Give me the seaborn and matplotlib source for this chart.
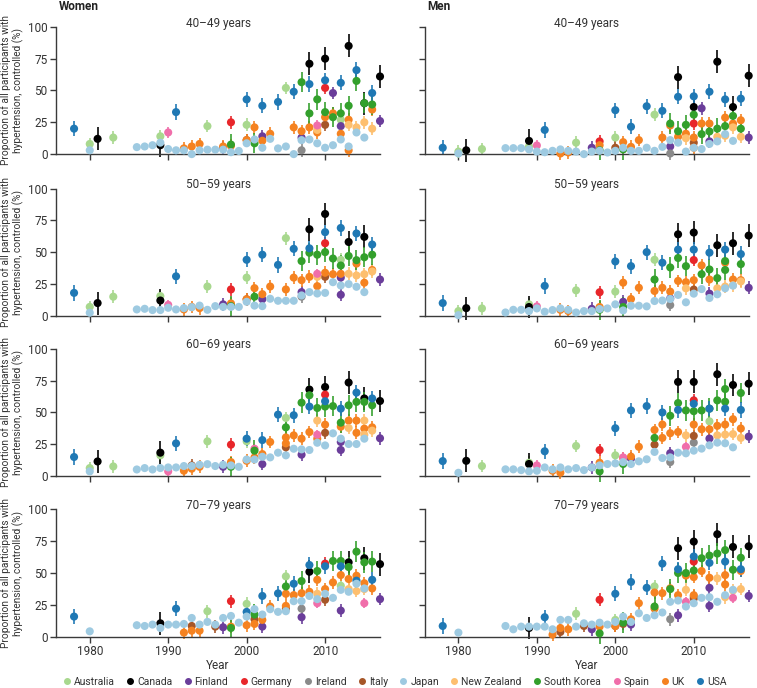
import numpy as np
import pandas as pd
import matplotlib
matplotlib.use('Agg')
import matplotlib.pyplot as plt
from matplotlib.lines import Line2D
import seaborn as sns

# Countries, colours and typical half-width of the 95% interval (read by eye)
countries = ['Australia', 'Canada', 'Finland', 'Germany', 'Ireland', 'Italy',
             'Japan', 'New Zealand', 'South Korea', 'Spain', 'UK', 'USA']
colors = ['#a8d88e', '#000000', '#6a3d9a', '#e8262a', '#8a8a8a', '#a65628',
          '#9ecae1', '#fdbf6f', '#33a02c', '#f06eaa', '#f58220', '#1f78b4']
ci_half = [5, 9, 5, 5, 5, 5, 2.5, 5, 8, 4, 5, 6]

JAPAN_YEARS = [1980, 1986, 1987, 1988, 1989, 1990, 1991, 1992, 1993, 1994, 1995,
               1996, 1997, 1998, 1999, 2000, 2001, 2002, 2003, 2004, 2005, 2006,
               2007, 2008, 2009, 2010, 2011, 2012, 2013, 2014, 2015]
USA_YEARS = [1978, 1991, 2000, 2002, 2004, 2006, 2008, 2010, 2012, 2014, 2016]

# ---- Women ----
women_40 = {
    'Australia': ([1980, 1983, 1989, 1995, 2000, 2005, 2012], [8, 13, 14, 22, 23, 52, 27]),
    'Canada': ([1981, 1989, 2008, 2010, 2013, 2015, 2017], [12, 7, 71, 75, 85, 40, 61]),
    'Finland': ([1997, 2002, 2007, 2011, 2012, 2017], [5, 14, 13, 48, 22, 26]),
    'Germany': ([1998, 2010], [25, 52]),
    'Ireland': ([2007], [3]),
    'Italy': ([2000, 2010], [11, 23]),
    'Japan': (JAPAN_YEARS, [3, 5.5, 6, 7, 9, 4, 3, 3, 0, 3, 3.5, 3.5, 3.5, 1.5, 2.5, 8.5,
                            11.5, 5, 12, 4.5, 6, 0, 11, 11.5, 8.5, 5, 7, 11.5, 6, 17, 13]),
    'New Zealand': ([2009, 2013, 2014, 2015, 2016], [19, 23, 21, 25, 20]),
    'South Korea': ([1998, 2001, 2007, 2008, 2009, 2010, 2011, 2012, 2013, 2014, 2015, 2016],
                    [7.5, 8.5, 56.5, 32, 43, 33, 29, 32, 38, 57.5, 40, 39]),
    'Spain': ([1990, 2009], [17, 22.5]),
    'UK': ([1992, 1993, 1994, 1997, 1998, 2000, 2001, 2002, 2003, 2006, 2007, 2008, 2009,
            2010, 2011, 2012, 2013, 2013, 2016],
           [4.5, 6, 8, 6, 6.5, 11, 21, 10.5, 16, 21, 18, 21, 17, 29, 32, 16, 27, 3, 35]),
    'USA': (USA_YEARS, [20, 33, 43, 38, 41, 49, 55, 58, 56, 66, 48]),
}
women_50 = {
    'Australia': ([1980, 1983, 1989, 1995, 2000, 2005, 2012], [7, 15, 15.5, 23, 30, 61, 44]),
    'Canada': ([1981, 1989, 2008, 2010, 2013, 2015], [10, 12, 68, 80, 58, 62]),
    'Finland': ([1997, 2002, 2007, 2012, 2012, 2017], [9, 13, 18.6, 30, 16.5, 28.5]),
    'Germany': ([1998, 2010], [20.7, 57]),
    'Ireland': ([2007], [15]),
    'Italy': ([2000, 2010], [13, 30.6]),
    'Japan': (JAPAN_YEARS, [2.4, 5, 5.5, 4.5, 4.5, 6.3, 5, 6, 6.8, 8, 4.7, 7.6, 7, 7, 7, 11,
                            8, 7.6, 13.4, 11.8, 11.8, 11.8, 16, 18.6, 17.5, 18, 26.4, 23.8,
                            24.9, 22.8, 18.6]),
    'New Zealand': ([2009, 2013, 2014, 2015, 2016], [30.6, 33, 31.7, 32.7, 34.8]),
    'South Korea': ([1998, 2001, 2007, 2008, 2009, 2010, 2011, 2012, 2013, 2014, 2015, 2016],
                    [7.6, 15, 43, 49.5, 48, 50, 45, 39.5, 47, 43.7, 46, 48]),
    'Spain': ([1990, 2009], [8.6, 33]),
    'UK': ([1992, 1993, 1994, 1998, 2000, 2001, 2002, 2003, 2005, 2006, 2007, 2008, 2009,
            2010, 2011, 2012, 2014, 2015, 2016],
           [5, 7, 6, 9.7, 13, 21.7, 17, 23, 20.7, 30, 28, 30.6, 23.3, 33.8, 32.7, 33, 41, 26, 36]),
    'USA': (USA_YEARS, [18, 31, 44, 48, 40, 52.6, 53, 65.7, 69, 64.7, 56]),
}
women_60 = {
    'Australia': ([1980, 1983, 1989, 1995, 2000, 2005], [6.3, 7.6, 16.3, 27.3, 27.3, 45.7]),
    'Canada': ([1981, 1989, 2008, 2010, 2013, 2015, 2017], [11.5, 18.4, 68, 70, 73.5, 61, 59]),
    'Finland': ([1997, 2002, 2007, 2012, 2012, 2017], [7.3, 9.4, 16.8, 20.5, 26.8, 29.7]),
    'Germany': ([1998, 2010], [24.7, 64]),
    'Italy': ([1993, 2005, 2010], [8.4, 22.6, 34]),
    'Japan': (JAPAN_YEARS, [3.7, 5.2, 6.3, 5.2, 6.3, 6.8, 6.8, 7.9, 7.9, 8.9, 9.4, 7.9, 8.9,
                            8.4, 7.3, 13, 13, 15.2, 14.7, 18.4, 16.3, 21.5, 21, 20.5, 26.2,
                            24.1, 33.6, 29.4, 25.2, 25.2, 29.4]),
    'New Zealand': ([2009, 2013, 2015, 2015, 2016], [43.6, 37.8, 43.6, 32.5, 35.7]),
    'South Korea': ([1998, 2001, 2005, 2007, 2008, 2009, 2010, 2011, 2012, 2013, 2014, 2015, 2016],
                    [7.3, 20, 38.3, 57.7, 63.5, 53.5, 54.6, 55, 42, 55.6, 58.3, 58.3, 55.6]),
    'Spain': ([1990, 2001, 2009], [3.7, 21.5, 32.5]),
    'UK': ([1992, 1993, 1994, 1998, 2000, 2001, 2002, 2003, 2005, 2005, 2006, 2007, 2008,
            2009, 2010, 2012, 2013, 2014, 2014, 2015, 2016],
           [4.2, 5.8, 7.3, 11, 12, 14.7, 17.3, 26.8, 30.4, 25.7, 32, 29.4, 34.6, 29.4, 40.4,
            38.8, 43.6, 43.6, 34, 37.3, 38.3]),
    'USA': (USA_YEARS, [15, 25.7, 29.4, 28.3, 48.3, 47.8, 54.6, 58.8, 53, 65.6, 61]),
}
women_70 = {
    'Australia': ([1995, 2000, 2005, 2012], [20, 25.8, 47.4, 40]),
    'Canada': ([1989, 2008, 2013, 2015, 2017], [10.5, 51, 58.4, 61.6, 57]),
    'Finland': ([1997, 2002, 2007, 2012, 2017], [7.4, 7.9, 15.3, 20.5, 29.5]),
    'Germany': ([1998, 2010], [27.9, 57.4]),
    'Ireland': ([2007], [22]),
    'Italy': ([1993, 1996, 2001, 2005, 2010], [8.4, 7.9, 13.7, 22, 29]),
    'Japan': (JAPAN_YEARS, [4.2, 9, 8.4, 9.5, 6.8, 9.5, 9.5, 10, 14.7, 9.5, 11.6, 9.5, 14.7,
                            16.3, 11, 15.8, 21.6, 17.4, 21.6, 19.5, 20, 27.9, 27.9, 32, 29.5,
                            33.7, 30.5, 36.8, 35.3, 41.6, 37.9]),
    'New Zealand': ([2009, 2013, 2014, 2015], [33.7, 37.4, 35.8, 37.4]),
    'South Korea': ([1998, 2001, 2005, 2007, 2009, 2011, 2012, 2013, 2014, 2015, 2016],
                    [6.8, 17.4, 39.5, 43.7, 51.6, 59.5, 59.5, 54.7, 66.8, 58.4, 59]),
    'Spain': ([2009, 2015], [26.3, 26.3]),
    'UK': ([1992, 1993, 1994, 1998, 2000, 2001, 2002, 2003, 2005, 2005, 2006, 2007, 2008,
            2009, 2010, 2011, 2012, 2013, 2014, 2015, 2016],
           [3.2, 4.7, 4.7, 7.9, 9, 10, 13.2, 23.7, 33.7, 24.2, 32.6, 34.2, 35.3, 44.7, 37.4,
            42.6, 48.4, 45.3, 47.9, 42, 37.9]),
    'USA': (USA_YEARS, [15.8, 22, 19.5, 32, 34, 41.6, 56.3, 55.3, 55.3, 44, 44.7]),
}

# ---- Men ----
men_40 = {
    'Australia': ([1980, 1983, 1989, 1995, 2000, 2005], [2, 4, 6, 9, 13, 31]),
    'Canada': ([1981, 1989, 2008, 2010, 2013, 2015, 2017], [3, 10.4, 60.5, 37, 72.6, 37, 61.6]),
    'Finland': ([1997, 2007, 2011, 2012, 2017], [5, 6, 36, 10, 13]),
    'Germany': ([1998, 2010], [10, 24]),
    'Ireland': ([2007], [0.5]),
    'Italy': ([2000, 2010], [5, 9]),
    'Japan': (JAPAN_YEARS, [0.5, 4.7, 4.7, 4.7, 3.7, 2, 1.5, 2.6, 3.7, 2.6, 2, 0, 2, 2.6, 1.3,
                            2.6, 5, 2.6, 2.6, 5, 2.6, 5.7, 11, 9, 2, 5, 4, 8, 10, 15.7, 10.4]),
    'New Zealand': ([2009, 2013, 2014, 2015, 2016], [12.5, 13.6, 14.4, 21, 13.6]),
    'South Korea': ([1998, 2001, 2007, 2008, 2009, 2010, 2011, 2012, 2013, 2014, 2015, 2016],
                    [3, 3.7, 24, 18, 23, 31, 15.7, 17.8, 20, 22, 30, 20]),
    'Spain': ([1990], [6.8]),
    'UK': ([1993, 1994, 1998, 2001, 2002, 2003, 2006, 2007, 2008, 2009, 2010, 2010, 2011,
            2012, 2014, 2015, 2016],
           [0.5, 1.3, 7, 9.4, 5.7, 11, 13, 22.5, 13.6, 16, 13, 5, 24, 24, 28.7, 24, 26.6]),
    'USA': (USA_YEARS, [5, 19, 34.5, 21.5, 37.6, 34, 45, 45.4, 49, 43, 43.6]),
}
men_50 = {
    'Australia': ([1980, 1983, 1989, 1995, 2000, 2005], [3.7, 5.8, 9, 20, 19, 44]),
    'Canada': ([1981, 1989, 2008, 2010, 2013, 2015, 2017], [6, 6.9, 64, 65.4, 55.4, 57, 63]),
    'Finland': ([1997, 2001, 2007, 2012, 2017], [5.5, 11, 13.7, 17.4, 22]),
    'Germany': ([1998, 2010], [18.5, 43.8]),
    'Ireland': ([2007], [8.4]),
    'Italy': ([2010], [20.6]),
    'Japan': (JAPAN_YEARS, [0.5, 2.6, 4.7, 4.7, 3.7, 5.8, 3.2, 4.5, 5.8, 4.7, 2.6, 3.7, 3.7,
                            5.3, 5.8, 9, 4.2, 7.9, 7.9, 7.4, 11.6, 12, 13.2, 16.4, 10.6, 17.4,
                            21, 14, 16.9, 21.6, 23.7]),
    'New Zealand': ([2009, 2013, 2014, 2015, 2016], [21.6, 21.6, 23, 24, 27]),
    'South Korea': ([1998, 2001, 2005, 2007, 2008, 2009, 2011, 2012, 2013, 2014, 2014, 2016],
                    [4.7, 6.9, 28.5, 38, 45.4, 39, 32.7, 36.4, 29.6, 36, 43, 40.6]),
    'Spain': ([1990], [7.4]),
    'UK': ([1993, 1994, 1998, 2001, 2002, 2003, 2005, 2006, 2007, 2008, 2009, 2010, 2011,
            2012, 2014, 2015, 2016],
           [4.7, 3.7, 6.9, 26, 13.2, 22, 19.5, 22, 19, 27.4, 26.4, 28, 39.6, 28.5, 41.7, 28.5, 28]),
    'USA': (USA_YEARS, [10, 23.5, 42.7, 39, 50, 41.7, 52, 52, 49.6, 52, 48.5]),
}
men_60 = {
    'Australia': ([1983, 1989, 1995, 2000, 2012], [7.9, 10.5, 23.7, 16.3, 43]),
    'Canada': ([1981, 1989, 2008, 2010, 2013, 2015, 2017], [12, 9.5, 74, 74, 80, 71.6, 72.6]),
    'Finland': ([1997, 2002, 2007, 2012, 2017], [6.8, 13.7, 18, 29.5, 31]),
    'Germany': ([1998, 2010], [20.5, 59.5]),
    'Ireland': ([2007, 2010], [11, 26.3]),
    'Italy': ([2005, 2010], [24.7, 31.6]),
    'Japan': (JAPAN_YEARS, [2.6, 5.3, 5.3, 4.7, 3.7, 4.2, 6.8, 5.3, 6.8, 5.3, 6.3, 4.7, 6.8,
                            8.4, 9.5, 10, 11, 9.5, 11.6, 13.2, 19, 14.2, 14.7, 18.4, 17.9, 20,
                            21.6, 24.2, 26.3, 25.8, 22.6]),
    'New Zealand': ([2009, 2013, 2014, 2015, 2016], [32, 32, 32.6, 33, 30]),
    'South Korea': ([1998, 2001, 2005, 2007, 2008, 2009, 2010, 2011, 2012, 2013, 2014, 2014, 2016],
                    [3.7, 9.5, 30, 47.4, 57.4, 51.6, 51, 51.6, 53, 59.5, 68.4, 58.4, 65.3]),
    'Spain': ([1990, 2001, 2009], [8.4, 14.7, 23]),
    'UK': ([1992, 1993, 1998, 2001, 2002, 2003, 2005, 2006, 2006, 2007, 2008, 2010, 2011,
            2012, 2013, 2014, 2015, 2016],
           [4.2, 2.6, 10.5, 14.2, 15.3, 23, 36.3, 40.5, 30, 33.7, 34.7, 40.5, 36.8, 36.8, 39.5,
            40.5, 44.7, 37.4]),
    'USA': (USA_YEARS, [11.8, 19.5, 37.6, 51.6, 55, 50, 52, 56.8, 53, 53, 52]),
}
men_70 = {
    'Australia': ([1995, 2000, 2005], [18, 13.2, 39.5]),
    'Canada': ([1989, 2008, 2010, 2013, 2015, 2017], [6.8, 69.5, 74.7, 80.5, 70.5, 71]),
    'Finland': ([1997, 2002, 2008, 2012, 2012, 2017], [5.8, 9.5, 16.8, 38.4, 24.2, 32]),
    'Germany': ([1998, 2010], [29, 59]),
    'Ireland': ([2007, 2010], [13.7, 31.6]),
    'Italy': ([1993, 1996, 2000, 2001, 2010], [3.7, 8.4, 8.4, 10, 30]),
    'Japan': (JAPAN_YEARS, [3.2, 8.4, 5.8, 7.9, 7.9, 7.9, 7.9, 5.8, 13.2, 13.2, 7.9, 10.5, 9.5,
                            11, 9.5, 11.6, 15.8, 11.6, 18.4, 14.7, 16.8, 19, 27.4, 28.4, 23.7,
                            26.3, 30.5, 31, 27.4, 32.6, 36.8]),
    'New Zealand': ([2009, 2013, 2014, 2015, 2016], [36.8, 45.8, 31, 36.3, 37.4]),
    'South Korea': ([1998, 2001, 2005, 2007, 2008, 2009, 2010, 2011, 2012, 2013, 2014, 2015, 2016],
                    [2.6, 11, 23.7, 37.4, 50, 50, 52, 61.6, 63.7, 65.3, 68, 52.6, 62]),
    'Spain': ([2009, 2015], [27.4, 30.5]),
    'UK': ([1992, 1993, 1994, 1998, 2000, 2002, 2003, 2005, 2005, 2006, 2007, 2008, 2009,
            2010, 2010, 2011, 2012, 2014, 2014, 2016],
           [1.6, 6.8, 5.8, 7.9, 8.4, 13.7, 26.3, 22, 34.7, 34.2, 38, 32.6, 48, 46.8, 32.6,
            51.6, 46.3, 48.4, 41, 51.6]),
    'USA': (USA_YEARS, [8.4, 15.3, 33.7, 43, 38.4, 57.4, 53, 63, 58, 59, 53]),
}

age_groups = ['40–49 years', '50–59 years', '60–69 years', '70–79 years']
panels = {('Women', 0): women_40, ('Women', 1): women_50, ('Women', 2): women_60,
          ('Women', 3): women_70, ('Men', 0): men_40, ('Men', 1): men_50,
          ('Men', 2): men_60, ('Men', 3): men_70}

# long table
rows = []
for (sex, i), d in panels.items():
    for c, (yrs, vals) in d.items():
        for y, v in zip(yrs, vals):
            rows.append((sex, i, c, y, v))
df = pd.DataFrame(rows, columns=['sex', 'age', 'country', 'year', 'value'])

palette = dict(zip(countries, colors))
err = dict(zip(countries, ci_half))
draw_order = ['Australia', 'Canada', 'Finland', 'Germany', 'Ireland', 'Italy',
              'UK', 'New Zealand', 'Spain', 'South Korea', 'USA', 'Japan']
df['rank'] = df['country'].map({c: k for k, c in enumerate(draw_order)})
df = df.sort_values(['rank', 'year'], kind='stable')
df['lo'] = df['value'] - df['country'].map(err)
df['hi'] = df['value'] + df['country'].map(err)

sns.set_style('ticks')
plt.rcParams['font.family'] = ['Roboto', 'DejaVu Sans']
plt.rcParams['font.size'] = 8
axis_col = '#3a3a3a'
txt_col = '#333333'

fig = plt.figure(figsize=(7.57, 6.88), dpi=100)
lefts = {'Women': 0.074, 'Men': 0.561}
bottoms = [0.776, 0.541, 0.308, 0.0746]
w, h = 0.428, 0.185

for (sex, i) in panels:
    ax = fig.add_axes([lefts[sex], bottoms[i], w, h])
    sub = df[(df['sex'] == sex) & (df['age'] == i)]
    for c in draw_order:
        s = sub[sub['country'] == c]
        if len(s):
            ax.vlines(s['year'], s['lo'], s['hi'], color=palette[c], lw=1.3,
                      alpha=0.9, clip_on=False, zorder=2)
    sns.scatterplot(data=sub, x='year', y='value', hue='country', palette=palette,
                    s=34, linewidth=0, legend=False, ax=ax, clip_on=False, zorder=3)
    ax.set_xlim(1975.7, 2017.0)
    ax.set_ylim(0, 100)
    ax.set_yticks([0, 25, 50, 75, 100])
    ax.set_xticks([1980, 1990, 2000, 2010])
    sns.despine(ax=ax)
    for sp in ['left', 'bottom']:
        ax.spines[sp].set_color(axis_col)
        ax.spines[sp].set_linewidth(1.0)
    ax.tick_params(colors=axis_col, labelcolor=txt_col, length=4, width=1.0,
                   labelsize=8.5, pad=2)
    ax.text(0.5, 1.03, age_groups[i], transform=ax.transAxes, ha='center', va='center',
            fontsize=8.5, color=txt_col)
    if sex == 'Women':
        ax.set_ylabel('Proportion of all participants with\nhypertension, controlled (%)',
                      fontsize=7.3, color=txt_col, labelpad=3, linespacing=1.1)
    else:
        ax.set_ylabel('')
        ax.set_yticklabels([])
    if i == 3:
        ax.set_xlabel('Year', fontsize=8.5, color=txt_col, labelpad=1)
    else:
        ax.set_xlabel('')
        ax.set_xticklabels([])

fig.text(0.078, 0.99, 'Women', fontsize=8.5, fontweight='bold', va='center', color='#222222')
fig.text(0.564, 0.99, 'Men', fontsize=8.5, fontweight='bold', va='center', color='#222222')

handles = [Line2D([], [], marker='o', ls='', color=palette[c], markersize=4) for c in countries]
fig.legend(handles, countries, loc='center', bbox_to_anchor=(0.522, 0.009), ncol=12,
           frameon=False, handletextpad=0.35, columnspacing=1.2, fontsize=7.5,
           labelcolor=txt_col, handlelength=0.6)

fig.savefig('out.png', dpi=100)
